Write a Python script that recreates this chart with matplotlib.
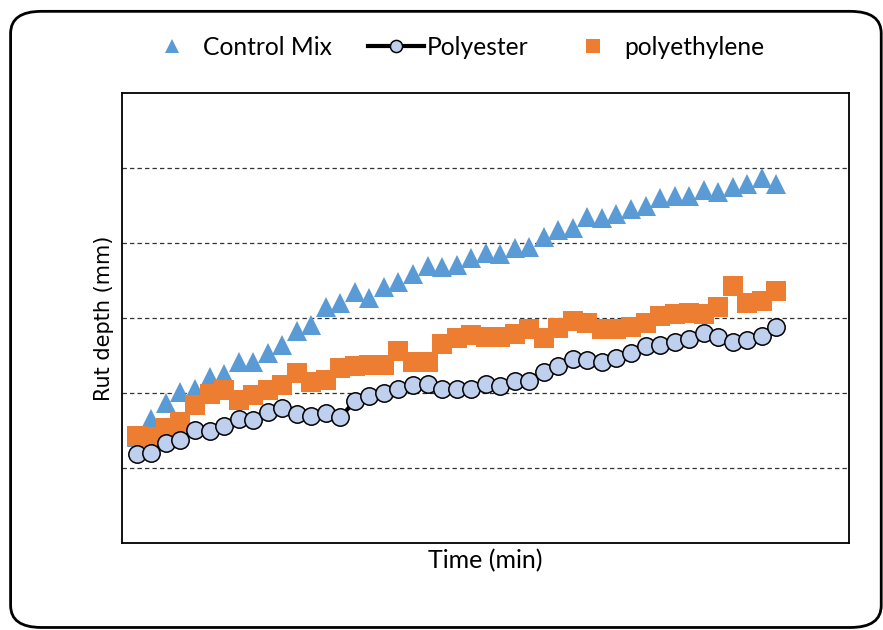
import numpy as np
import matplotlib
matplotlib.use("Agg")
import matplotlib.pyplot as plt
from matplotlib.patches import FancyBboxPatch

# time steps (45 readings)
time = list(range(1, 46))

control_mix = [1.42, 1.66, 1.87, 2.01, 2.05, 2.21, 2.26, 2.41, 2.41, 2.54,
               2.64, 2.83, 2.91, 3.14, 3.20, 3.35, 3.27, 3.41, 3.48, 3.58,
               3.69, 3.68, 3.71, 3.80, 3.87, 3.85, 3.93, 3.95, 4.08, 4.17,
               4.20, 4.35, 4.33, 4.38, 4.45, 4.49, 4.60, 4.63, 4.63, 4.70,
               4.68, 4.74, 4.78, 4.87, 4.79]

polyester = [1.19, 1.20, 1.34, 1.38, 1.51, 1.50, 1.56, 1.66, 1.64, 1.75,
             1.80, 1.72, 1.69, 1.74, 1.68, 1.89, 1.96, 2.00, 2.05, 2.11,
             2.12, 2.06, 2.05, 2.06, 2.12, 2.09, 2.16, 2.16, 2.28, 2.36,
             2.45, 2.44, 2.41, 2.47, 2.53, 2.63, 2.64, 2.68, 2.72, 2.80,
             2.74, 2.68, 2.71, 2.76, 2.88]

polyethylene = [1.43, 1.41, 1.54, 1.61, 1.84, 1.99, 2.04, 1.91, 1.97, 2.04,
                2.11, 2.27, 2.15, 2.17, 2.33, 2.36, 2.38, 2.37, 2.56, 2.41,
                2.41, 2.66, 2.73, 2.77, 2.75, 2.74, 2.79, 2.85, 2.73, 2.87,
                2.96, 2.93, 2.85, 2.85, 2.88, 2.93, 3.03, 3.05, 3.07, 3.05,
                3.14, 3.42, 3.20, 3.23, 3.36]

fig = plt.figure(figsize=(8.83, 6.3), dpi=100)
ax = fig.add_axes([0.1385, 0.138, 0.8230, 0.7145])

# rounded outer frame
frame = FancyBboxPatch((0.012, 0.004), 0.986, 0.978,
                       boxstyle="round,pad=0,rounding_size=0.035",
                       transform=fig.transFigure, fill=False,
                       edgecolor="black", linewidth=2, clip_on=False)
fig.patches.append(frame)

h1, = ax.plot(time, control_mix, linestyle="none", marker="^", markersize=15,
              color="#5b9bd5", markeredgewidth=0, zorder=3, label="Control Mix")
h3, = ax.plot(time, polyethylene, linestyle="none", marker="s", markersize=14,
              color="#ed7d31", markeredgewidth=0, zorder=4, label="polyethylene")
h2, = ax.plot(time, polyester, color="black", linewidth=3, marker="o",
              markersize=12.5, markerfacecolor="#bfcfee", markeredgecolor="black",
              markeredgewidth=1.1, zorder=5, label="Polyester")

ax.set_xlim(0, 50)
ax.set_ylim(0, 6)
ax.set_yticks([1, 2, 3, 4, 5])
ax.set_xticks([])
ax.tick_params(left=False, labelleft=False)
ax.grid(axis="y", color="#333333", linestyle=(0, (3.5, 2.5)), linewidth=0.9)
for s in ax.spines.values():
    s.set_linewidth(1.3)

ax.set_xlabel("Time (min)", family="Lato", fontsize=18, labelpad=4)
ax.set_ylabel("Rut depth (mm)", family="DejaVu Sans", fontsize=15, labelpad=6)

fig.legend([h1, h2, h3], ["Control Mix", "Polyester", "polyethylene"],
           loc="center", bbox_to_anchor=(0.514, 0.925), ncol=3, frameon=False,
           prop={"family": "Lato", "size": 17.7}, handlelength=2.3,
           columnspacing=1.45, handletextpad=0.12, markerscale=0.7)

fig.savefig("out.png", dpi=100)
